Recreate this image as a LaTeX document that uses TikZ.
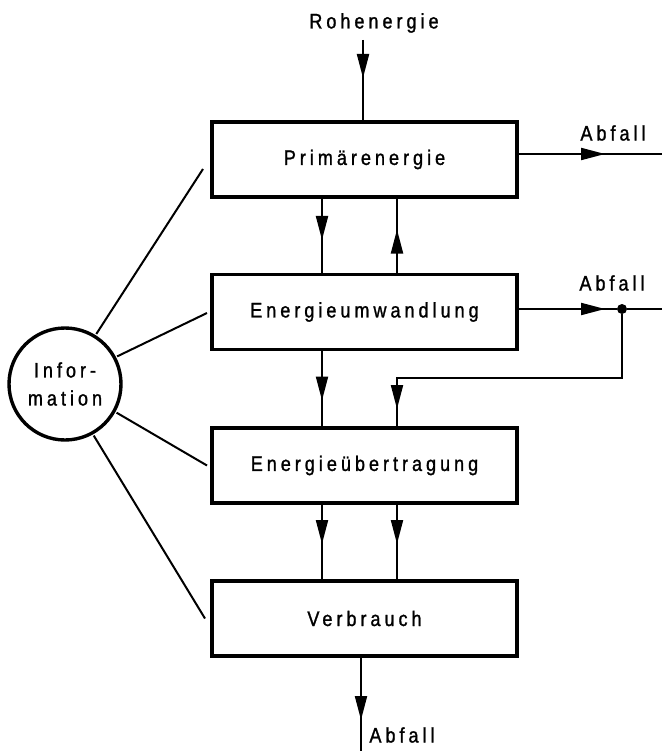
\documentclass[tikz,border=0pt]{standalone}
\usepackage{fontspec}
\setmainfont{Liberation Sans}[FakeStretch=0.86, LetterSpace=19, FakeBold=1.2]
\usetikzlibrary{arrows.meta,decorations.markings,calc}

\begin{document}
\begin{tikzpicture}[x=1pt,y=-1pt,
  txt/.style={font=\fontsize{21}{28}\selectfont},
  box/.style={draw, line width=3.8pt, minimum width=305pt, minimum height=75pt,
    inner sep=0pt, outer sep=0pt, txt},
  lbl/.style={inner sep=0pt, txt},
  conn/.style={line width=2pt},
  arrowat/.style={postaction={decorate},
    decoration={markings, mark=at position #1 with
      {\arrow{Triangle[length=24pt,width=12pt]}}}}
]
\useasboundingbox (0,0) rectangle (662,751);

% process blocks
\node[box] (b1) at (364.5,159.5) {Primärenergie};
\node[box] (b2) at (364.5,312)   {Energieumwandlung};
\node[box] (b3) at (364.5,465.5) {Energieübertragung};
\node[box] (b4) at (364.5,618.5) {Verbrauch};

% information circle
\node[draw, circle, line width=3.4pt, minimum size=112pt, inner sep=0pt,
  outer sep=0pt, align=center, txt] (info) at (65,384) {Infor-\\mation};

% labels
\node[lbl] (raw) at (374,23)  {Rohenergie};
\node[lbl] (w1)  at (613,133) {Abfall};
\node[lbl] (w2)  at (612,283) {Abfall};
\node[lbl] (w3)  at (402,735) {Abfall};

% helper points
\coordinate (cl) at (322,0);
\coordinate (cr) at (397,0);
\coordinate (rawtop) at (363,40);
\coordinate (e1) at (662,154);
\coordinate (e2) at (662,309);
\node[circle, fill, inner sep=0pt, minimum size=10pt] (dot) at (622,309) {};
\coordinate (fb) at (622,378);
\coordinate (bot) at (361,751);

% energy flow
\draw[conn, arrowat=38pt] (rawtop) -- (rawtop |- b1.north);
\draw[conn, arrowat=43pt] (b1.south -| cl) -- (b2.north -| cl);
\draw[conn, arrowat=45pt] (b2.north -| cr) -- (b1.south -| cr);
\draw[conn, arrowat=88pt] (b1.east |- e1) -- (e1);
\draw[conn, arrowat=88pt] (b2.east |- dot) -- (dot);
\draw[conn] (dot) -- (e2);
\draw[conn, arrowat=51pt] (b2.south -| cl) -- (b3.north -| cl);
\draw[conn, arrowat=-19pt] (dot) -- (fb) -| (b3.north -| cr);
\draw[conn, arrowat=41pt] (b3.south -| cl) -- (b4.north -| cl);
\draw[conn, arrowat=41pt] (b3.south -| cr) -- (b4.north -| cr);
\draw[conn, arrowat=64pt] (b4.south -| bot) -- (bot);

% information links
\draw[conn, shorten <=3pt] (info.58)  -- ($(b1.west)+(-9,9.5)$);
\draw[conn, shorten <=3pt] (info.28)  -- ($(b2.west)+(-5,1)$);
\draw[conn, shorten <=3pt] (info.-29) -- ($(b3.west)+(-5,0)$);
\draw[conn, shorten <=3pt] (info.-61) -- ($(b4.west)+(-7,0)$);
\end{tikzpicture}
\end{document}
